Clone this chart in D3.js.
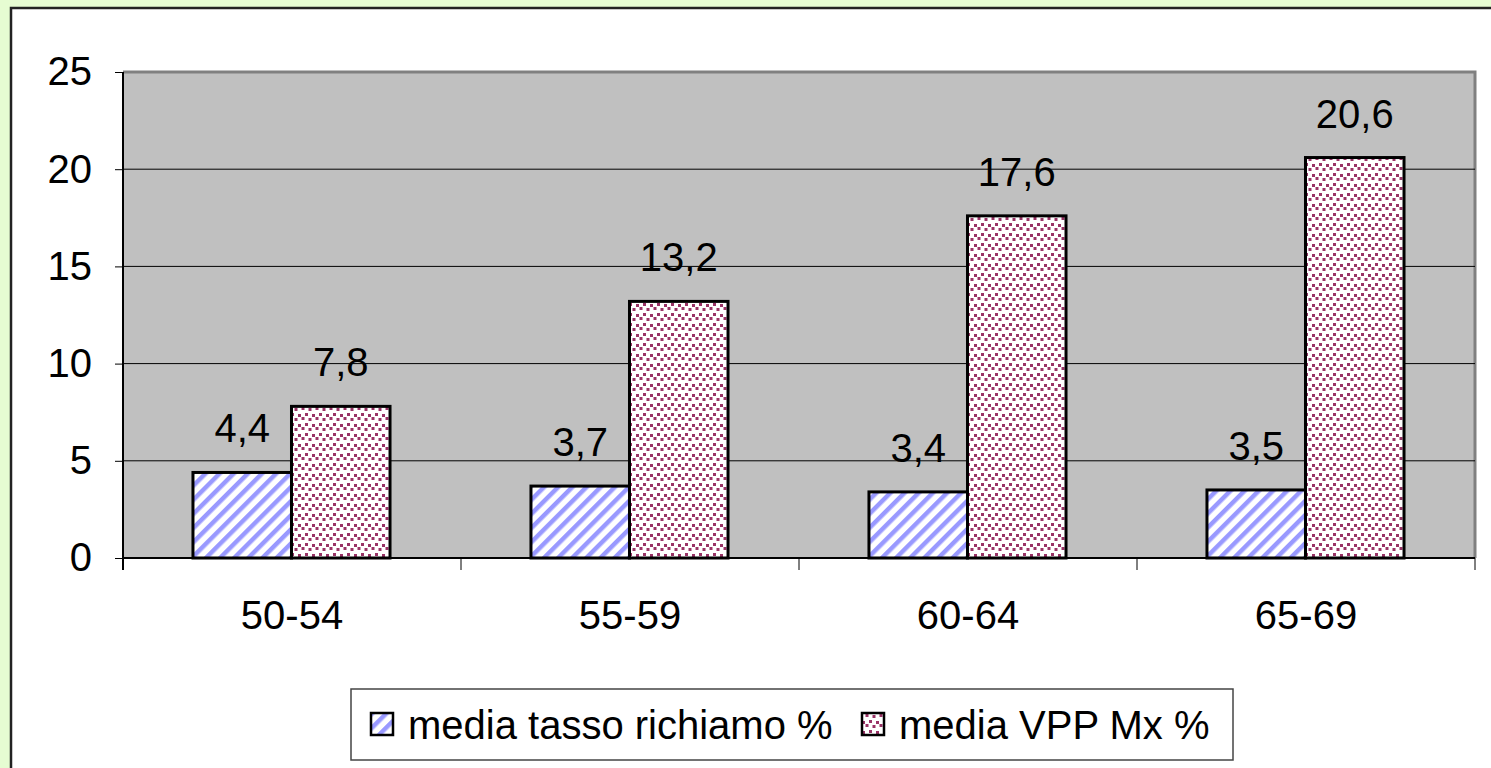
<!DOCTYPE html>
<html>
<head>
    <title>Media tasso richiamo e VPP</title>
    <script src="https://d3js.org/d3.v7.min.js"></script>
    <style>
        body { margin: 0; background: #e6fcd2; }
        text { font-family: "Liberation Sans", Arial, sans-serif; }
    </style>
</head>
<body>
    <div id="chart"></div>

    <script>
        // Data for the chart
        var categories = ["50-54", "55-59", "60-64", "65-69"];
        var seriesNames = ["media tasso richiamo %", "media VPP Mx %"];
        var tasso = [4.4, 3.7, 3.4, 3.5];
        var vpp = [7.8, 13.2, 17.6, 20.6];
        var yTicks = [0, 5, 10, 15, 20, 25];

        var W = 1491, H = 768;
        var margin = { top: 72, right: 16, bottom: 210, left: 123 };
        var width = 1475 - margin.left;
        var height = 558 - margin.top;
        var fontSize = 40;

        var svg = d3.select("#chart")
            .append("svg")
            .attr("width", W)
            .attr("height", H);

        // patterns
        var defs = svg.append("defs");
        var stripe = defs.append("pattern")
            .attr("id", "stripes")
            .attr("patternUnits", "userSpaceOnUse")
            .attr("width", 10).attr("height", 10)
            .attr("patternTransform", "rotate(45)");
        stripe.append("rect").attr("width", 10).attr("height", 10).attr("fill", "#fff");
        stripe.append("rect").attr("width", 4.5).attr("height", 10).attr("fill", "#9999ff");

        var dots = defs.append("pattern")
            .attr("id", "dots")
            .attr("patternUnits", "userSpaceOnUse")
            .attr("width", 14).attr("height", 10);
        dots.append("rect").attr("width", 14).attr("height", 10).attr("fill", "#fff");
        [[0, 1], [7, 2], [3.5, 6], [10.5, 5]].forEach(function(p) {
            dots.append("rect").attr("x", p[0]).attr("y", p[1])
                .attr("width", 3).attr("height", 3).attr("fill", "#993366");
        });

        // outer white panel
        svg.append("rect")
            .attr("x", 11).attr("y", 8)
            .attr("width", W + 10).attr("height", H + 10)
            .attr("fill", "#fff")
            .attr("stroke", "#222").attr("stroke-width", 2.5);

        var g = svg.append("g")
            .attr("transform", "translate(" + margin.left + "," + margin.top + ")");

        var x = d3.scaleBand()
            .domain(categories)
            .range([0, width])
            .paddingInner(0)
            .paddingOuter(0);

        var inner = d3.scaleBand()
            .domain([0, 1])
            .range([x.bandwidth() * 0.207, x.bandwidth() * 0.79]);

        var y = d3.scaleLinear()
            .domain([0, 25])
            .range([height, 0]);

        // plot background with shadowed border
        g.append("rect")
            .attr("width", width).attr("height", height)
            .attr("fill", "#c0c0c0");
        g.append("path")
            .attr("d", "M0,0H" + width + "V" + height)
            .attr("fill", "none")
            .attr("stroke", "#808080").attr("stroke-width", 3);

        // gridlines
        g.selectAll(".grid")
            .data(yTicks.filter(function(d) { return d > 0 && d < 25; }))
            .enter()
            .append("line")
            .attr("x1", 0).attr("x2", width)
            .attr("y1", function(d) { return y(d); })
            .attr("y2", function(d) { return y(d); })
            .attr("stroke", "#000").attr("stroke-width", 1);

        var data = categories.map(function(c, i) {
            return { cat: c, vals: [tasso[i], vpp[i]] };
        });

        var fills = ["url(#stripes)", "url(#dots)"];

        var groups = g.selectAll(".grp")
            .data(data)
            .enter()
            .append("g")
            .attr("transform", function(d) { return "translate(" + x(d.cat) + ",0)"; });

        groups.selectAll("rect")
            .data(function(d) { return d.vals; })
            .enter()
            .append("rect")
            .attr("x", function(d, i) { return inner(i); })
            .attr("y", function(d) { return y(d); })
            .attr("width", inner.bandwidth())
            .attr("height", function(d) { return height - y(d); })
            .attr("fill", function(d, i) { return fills[i]; })
            .attr("stroke", "#000").attr("stroke-width", 3);

        groups.selectAll(".lbl")
            .data(function(d) { return d.vals; })
            .enter()
            .append("text")
            .attr("class", "lbl")
            .attr("x", function(d, i) { return inner(i) + inner.bandwidth() / 2; })
            .attr("y", function(d) { return y(d) - 30; })
            .attr("text-anchor", "middle")
            .attr("font-size", fontSize)
            .text(function(d) { return d3.format(".1f")(d).replace(".", ","); });

        // y axis
        var yAxis = g.append("g")
            .call(d3.axisLeft(y).tickValues(yTicks).tickSize(8).tickPadding(23));
        yAxis.select(".domain").attr("stroke", "#000").attr("stroke-width", 2).attr("d", "M0," + (height + 12) + "V0");
        yAxis.selectAll("text").attr("font-size", fontSize).attr("font-family", "Liberation Sans, Arial, sans-serif").attr("fill", "#000");

        // x axis with ticks at category boundaries
        var xAxis = g.append("g")
            .attr("transform", "translate(0," + height + ")");
        xAxis.append("line")
            .attr("x1", 0).attr("x2", width)
            .attr("stroke", "#000").attr("stroke-width", 2);
        xAxis.selectAll(".xt")
            .data(d3.range(categories.length + 1))
            .enter()
            .append("line")
            .attr("x1", function(i) { return i * x.step(); })
            .attr("x2", function(i) { return i * x.step(); })
            .attr("y1", 0).attr("y2", 12)
            .attr("stroke", "#000").attr("stroke-width", 1);
        xAxis.selectAll(".xl")
            .data(categories)
            .enter()
            .append("text")
            .attr("x", function(d) { return x(d) + x.bandwidth() / 2; })
            .attr("y", 71)
            .attr("text-anchor", "middle")
            .attr("font-size", fontSize)
            .text(function(d) { return d; });

        // legend
        var legend = svg.append("g").attr("transform", "translate(351,689)");
        legend.append("rect")
            .attr("width", 882).attr("height", 71)
            .attr("fill", "#fff")
            .attr("stroke", "#444").attr("stroke-width", 1.5);
        var legX = [20, 511];
        seriesNames.forEach(function(name, i) {
            legend.append("rect")
                .attr("x", legX[i]).attr("y", 24)
                .attr("width", 22).attr("height", 22)
                .attr("fill", fills[i])
                .attr("stroke", "#000").attr("stroke-width", 2.5);
            legend.append("text")
                .attr("x", legX[i] + 37).attr("y", 50)
                .attr("font-size", fontSize)
                .text(name);
        });
    </script>
</body>
</html>
